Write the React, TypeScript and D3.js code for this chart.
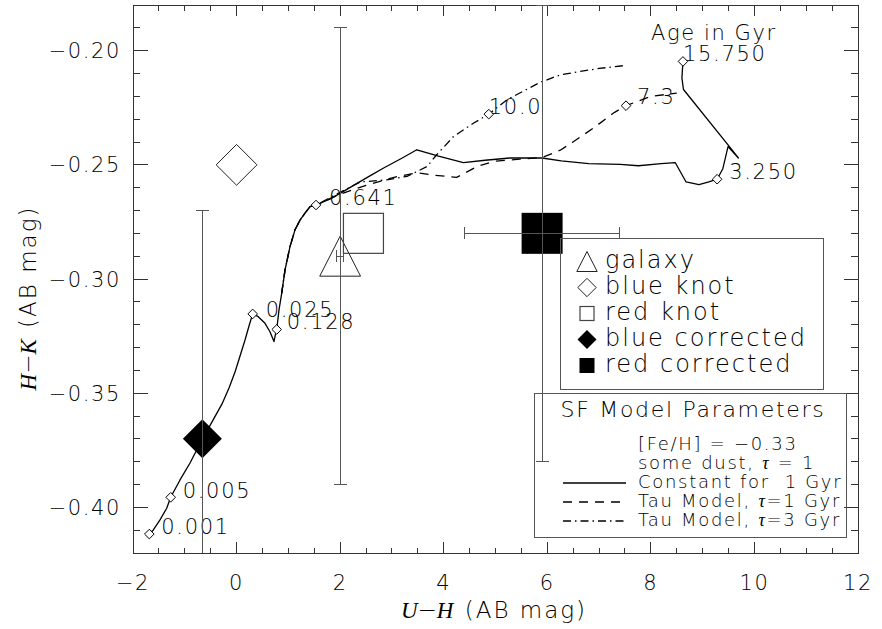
import React from 'react';
import * as d3 from 'd3';

// Model tracks in the (U-H, H-K) colour plane, AB magnitudes.
// Constant star formation for 1 Gyr
const constantUH = [-1.685, -1.608, -1.479, -1.349, -1.272, -1.092, -0.899, -0.662, -0.455, -0.281, -0.146, -0.03, 0.067, 0.163, 0.24, 0.311, 0.419, 0.549, 0.645, 0.722, 0.755, 0.775, 0.819, 0.871, 0.935, 1.032, 1.128, 1.225, 1.321, 1.418, 1.534, 1.8, 2.0, 2.26, 2.6, 2.84, 3.2, 3.48, 3.9, 4.38, 4.8, 5.28, 5.9, 6.27, 6.8, 7.41, 7.76, 8.2, 8.47, 8.68, 8.93, 9.12, 9.28, 9.39, 9.49, 9.69, 9.49, 8.63, 8.6, 8.62];
const constantHK = [-0.4117, -0.4099, -0.4055, -0.4004, -0.3956, -0.388, -0.3806, -0.3702, -0.3618, -0.3547, -0.3477, -0.3407, -0.3337, -0.3267, -0.3206, -0.3153, -0.3165, -0.3194, -0.3231, -0.3274, -0.3238, -0.3221, -0.3136, -0.3063, -0.2961, -0.2858, -0.2785, -0.2742, -0.2712, -0.2683, -0.2676, -0.265, -0.2625, -0.259, -0.2545, -0.2514, -0.247, -0.2434, -0.2462, -0.249, -0.248, -0.247, -0.247, -0.2483, -0.2495, -0.2498, -0.2504, -0.2495, -0.249, -0.2575, -0.2587, -0.2575, -0.2563, -0.2517, -0.242, -0.247, -0.2413, -0.217, -0.212, -0.2047];

// Exponentially declining SFR, tau = 1 Gyr
const tau1UH = [0.871, 0.935, 1.032, 1.128, 1.225, 1.321, 1.418, 1.534, 2.0, 2.5, 3.1, 3.5, 3.8, 4.25, 4.65, 4.96, 5.47, 5.9, 6.25, 6.51, 6.89, 7.3, 7.52, 8.0, 8.5];
const tau1HK = [-0.3063, -0.2961, -0.2858, -0.2785, -0.2742, -0.2712, -0.2683, -0.2676, -0.2628, -0.259, -0.2551, -0.2535, -0.2545, -0.2555, -0.2507, -0.2485, -0.2475, -0.2468, -0.2436, -0.2398, -0.2339, -0.227, -0.2241, -0.22, -0.2186];

// Exponentially declining SFR, tau = 3 Gyr
const tau3UH = [0.871, 0.935, 1.032, 1.128, 1.225, 1.321, 1.418, 1.534, 2.0, 2.39, 2.9, 3.3, 3.68, 3.86, 4.19, 4.58, 4.87, 5.22, 5.86, 6.25, 6.63, 7.0, 7.46];
const tau3HK = [-0.3063, -0.2961, -0.2858, -0.2785, -0.2742, -0.2712, -0.2683, -0.2676, -0.262, -0.2575, -0.2566, -0.255, -0.2507, -0.2457, -0.2376, -0.2317, -0.2278, -0.2215, -0.2139, -0.2106, -0.2091, -0.2078, -0.2066];

// Ages (Gyr) marked along the tracks
const ageLabels = ['0.001', '0.005', '0.025', '0.128', '0.641', '3.250', '15.750', '7.3', '10.0'];
const ageUH = [-1.685, -1.272, 0.311, 0.775, 1.534, 9.28, 8.62, 7.52, 4.87];
const ageHK = [-0.4117, -0.3956, -0.3153, -0.3221, -0.2676, -0.2563, -0.2047, -0.2241, -0.2278];

// Measured colours
const obsNames = ['galaxy', 'blue knot', 'red knot', 'blue corrected', 'red corrected'];
const obsUH = [2.0, 0.0, 2.45, -0.66, 5.9];
const obsHK = [-0.29, -0.25, -0.28, -0.37, -0.28];
const obsUHErr = [0.07, 0, 0, 0, 1.5];
const obsHKErr = [0.1, 0, 0, 0.1, 0.1];

// Axis ticks
const xTickValues = [-2, 0, 2, 4, 6, 8, 10, 12];
const yTickValues = [-0.4, -0.35, -0.3, -0.25, -0.2];

const modelLegend = ['Constant for  1 Gyr', 'Tau Model, \u03C4=1 Gyr', 'Tau Model, \u03C4=3 Gyr'];

const W = 882;
const H = 629;
const L = 133, R = 858, T = 5, B = 553;
const SANS = "'DejaVu Sans', 'Liberation Sans', sans-serif";
const SERIF = "'Liberation Serif', 'DejaVu Serif', serif";
const AX = '#333';

// pixel offsets of each age label from its marker
const ageLabelOffset: [number, number][] = [[12, 0], [12, 1], [13, 3], [10, 0], [13, 0], [12, 0], [0, 0], [11, -2], [0, 0]];

const DASH = '9,7';
const DASHDOT = '8,4,1.5,4';

function zip(a: number[], b: number[]): [number, number][] {
  return a.map((v, i) => [v, b[i]] as [number, number]);
}

function diamond(cx: number, cy: number, hw: number, hh: number) {
  return `M${cx},${cy - hh}L${cx + hw},${cy}L${cx},${cy + hh}L${cx - hw},${cy}Z`;
}
function triangle(cx: number, cy: number, hw: number, hh: number) {
  return `M${cx},${cy - hh}L${cx + hw},${cy + hh}L${cx - hw},${cy + hh}Z`;
}

export default function App() {
  const x = d3.scaleLinear().domain([-2, 12]).range([L, R]);
  const y = d3.scaleLinear().domain([-0.42, -0.18]).range([B, T]);
  const line = d3.line<[number, number]>().x((d) => x(d[0])).y((d) => y(d[1]));

  const xMinor = d3.range(-2, 12.001, 0.5);
  const yMinor = d3.range(-0.42, -0.1799, 0.01);

  const fmtY = (v: number) => d3.format('.2f')(v).replace('-', '\u2212');
  const fmtX = (v: number) => String(v).replace('-', '\u2212');

  // symbols for observations, drawn at (cx, cy) with a size in px
  const obsSymbol = (i: number, cx: number, cy: number, s: number) => {
    switch (i) {
      case 0:
        return <path d={triangle(cx, cy, s * 0.51, s * 0.5)} fill="none" stroke="#222" strokeWidth={1} />;
      case 1:
        return <path d={diamond(cx, cy, s * 0.51, s * 0.51)} fill="none" stroke="#222" strokeWidth={1} />;
      case 2:
        return <rect x={cx - s / 2} y={cy - s / 2} width={s} height={s} fill="none" stroke="#444" strokeWidth={1.2} />;
      case 3:
        return <path d={diamond(cx, cy, s * 0.5, s * 0.5)} fill="#000" />;
      default:
        return <rect x={cx - s / 2} y={cy - s / 2} width={s} height={s} fill="#000" />;
    }
  };
  const obsSize = [40, 40, 40, 39, 41];
  const legendSize = [20, 18, 14, 19, 15];

  const tickText = { fontFamily: SANS, fontSize: 21, fontWeight: 200, letterSpacing: 1.6, fill: '#000' } as const;

  return (
    <svg width={W} height={H} style={{ position: 'absolute', left: 0, top: 0, background: '#fff' }}>
      <defs>
        <clipPath id="plotArea">
          <rect x={L} y={T} width={R - L} height={B - T} />
        </clipPath>
      </defs>

      {/* frame and ticks */}
      <rect x={L} y={T} width={R - L} height={B - T} fill="none" stroke={AX} strokeWidth={1} shapeRendering="crispEdges" />
      <g stroke={AX} strokeWidth={1} shapeRendering="crispEdges">
        {xMinor.map((v) => {
          const major = Math.abs(v / 2 - Math.round(v / 2)) < 1e-6;
          const len = major ? 11 : 5.5;
          return (
            <g key={'xt' + v}>
              <line x1={x(v)} x2={x(v)} y1={B} y2={B - len} />
              <line x1={x(v)} x2={x(v)} y1={T} y2={T + len} />
            </g>
          );
        })}
        {yMinor.map((v) => {
          const major = yTickValues.some((t) => Math.abs(t - v) < 1e-6);
          const len = major ? 14.5 : 7.25;
          return (
            <g key={'yt' + v.toFixed(2)}>
              <line x1={L} x2={L + len} y1={y(v)} y2={y(v)} />
              <line x1={R} x2={R - len} y1={y(v)} y2={y(v)} />
            </g>
          );
        })}
      </g>
      {xTickValues.map((v) => (
        <text key={'xl' + v} x={x(v)} y={590} textAnchor="middle" {...tickText}>
          {fmtX(v)}
        </text>
      ))}
      {yTickValues.map((v) => (
        <text key={'yl' + v} x={121} y={y(v) + 7.5} textAnchor="end" {...tickText}>
          {fmtY(v)}
        </text>
      ))}

      {/* axis titles */}
      <text x={494} y={618} textAnchor="middle" fontFamily={SANS} fontSize={23} fontWeight={200} letterSpacing={2}>
        <tspan fontFamily={SERIF} fontStyle="italic" letterSpacing={0}>U</tspan>
        <tspan fontFamily={SANS} letterSpacing={0}>{'\u2212'}</tspan>
        <tspan fontFamily={SERIF} fontStyle="italic">H</tspan>
        <tspan>{' (AB mag)'}</tspan>
      </text>
      <text transform="translate(36,298) rotate(-90)" textAnchor="middle" fontFamily={SANS} fontSize={23} fontWeight={200} letterSpacing={2}>
        <tspan fontFamily={SERIF} fontStyle="italic" letterSpacing={0}>H</tspan>
        <tspan fontFamily={SANS} letterSpacing={0}>{'\u2212'}</tspan>
        <tspan fontFamily={SERIF} fontStyle="italic">K</tspan>
        <tspan>{' (AB mag)'}</tspan>
      </text>

      {/* model tracks */}
      <g clipPath="url(#plotArea)" fill="none" stroke="#000" strokeWidth={1.3} strokeLinejoin="round">
        <path d={line(zip(tau3UH, tau3HK)) || ''} strokeDasharray={DASHDOT} />
        <path d={line(zip(tau1UH, tau1HK)) || ''} strokeDasharray={DASH} />
        <path d={line(zip(constantUH, constantHK)) || ''} />
        {ageLabels.map((lab, i) => (
          <path key={'am' + lab} d={diamond(x(ageUH[i]), y(ageHK[i]), 4.8, 4.8)} fill="#fff" strokeWidth={1} />
        ))}
      </g>
      {ageLabels.map((lab, i) => (
        <text key={'al' + lab} x={x(ageUH[i]) + ageLabelOffset[i][0]} y={y(ageHK[i]) + ageLabelOffset[i][1]} {...tickText} letterSpacing={1.7}>
          {lab}
        </text>
      ))}
      <text x={651} y={40} {...tickText} letterSpacing={1.6}>Age in Gyr</text>

      {/* observations with error bars */}
      <g clipPath="url(#plotArea)">
        {obsNames.map((name, i) => {
          const cx = x(obsUH[i]);
          const cy = y(obsHK[i]);
          const ex = obsUHErr[i];
          const ey = obsHKErr[i];
          return (
            <g key={'ob' + name}>
              {obsSymbol(i, cx, cy, obsSize[i])}
              <g stroke="#555" strokeWidth={1} shapeRendering="crispEdges">
                {ey > 0 && (
                  <>
                    <line x1={cx} x2={cx} y1={y(obsHK[i] - ey)} y2={y(obsHK[i] + ey)} />
                    <line x1={cx - 6.5} x2={cx + 6.5} y1={y(obsHK[i] + ey)} y2={y(obsHK[i] + ey)} />
                    <line x1={cx - 6.5} x2={cx + 6.5} y1={y(obsHK[i] - ey)} y2={y(obsHK[i] - ey)} />
                  </>
                )}
                {ex > 0 && (
                  <>
                    <line x1={x(obsUH[i] - ex)} x2={x(obsUH[i] + ex)} y1={cy} y2={cy} />
                    <line x1={x(obsUH[i] - ex)} x2={x(obsUH[i] - ex)} y1={cy - 6} y2={cy + 6} />
                    <line x1={x(obsUH[i] + ex)} x2={x(obsUH[i] + ex)} y1={cy - 6} y2={cy + 6} />
                  </>
                )}
              </g>
            </g>
          );
        })}
      </g>

      {/* symbol legend */}
      <rect x={560} y={238} width={263} height={151} fill="none" stroke="#555" strokeWidth={1} shapeRendering="crispEdges" />
      {obsNames.map((name, i) => {
        const base = 268 + i * 26;
        return (
          <g key={'lg' + name}>
            {obsSymbol(i, 587, base - 6.5, legendSize[i])}
            <text x={605} y={base} fontFamily={SANS} fontSize={24} fontWeight={200} letterSpacing={2}>
              {name}
            </text>
          </g>
        );
      })}

      {/* model parameter legend */}
      <rect x={534} y={393} width={312} height={144} fill="none" stroke="#555" strokeWidth={1} shapeRendering="crispEdges" />
      <text x={693} y={416.5} textAnchor="middle" fontFamily={SANS} fontSize={22} fontWeight={200} letterSpacing={1.7}>
        SF Model Parameters
      </text>
      <text x={638} y={450} fontFamily={SANS} fontSize={18} fontWeight={200} letterSpacing={1.7}>
        [Fe/H] = {'\u2212'}0.33
      </text>
      <text x={638} y={469} fontFamily={SANS} fontSize={18} fontWeight={200} letterSpacing={1.7}>
        some dust, <tspan fontFamily={SERIF} fontStyle="italic">{'\u03C4'}</tspan> = 1
      </text>
      {modelLegend.map((lab, i) => {
        const base = 488 + i * 19;
        const dash = i === 0 ? undefined : i === 1 ? DASH : DASHDOT;
        const parts = lab.split('\u03C4');
        return (
          <g key={'ml' + i}>
            <line x1={563} x2={626} y1={base - 5} y2={base - 5} stroke="#000" strokeWidth={1.3} strokeDasharray={dash} />
            <text x={638} y={base} fontFamily={SANS} fontSize={18} fontWeight={200} letterSpacing={1.7} xmlSpace="preserve">
              {parts.length > 1 ? (
                <>
                  {parts[0]}
                  <tspan fontFamily={SERIF} fontStyle="italic">{'\u03C4'}</tspan>
                  {parts[1]}
                </>
              ) : (
                lab
              )}
            </text>
          </g>
        );
      })}
    </svg>
  );
}
